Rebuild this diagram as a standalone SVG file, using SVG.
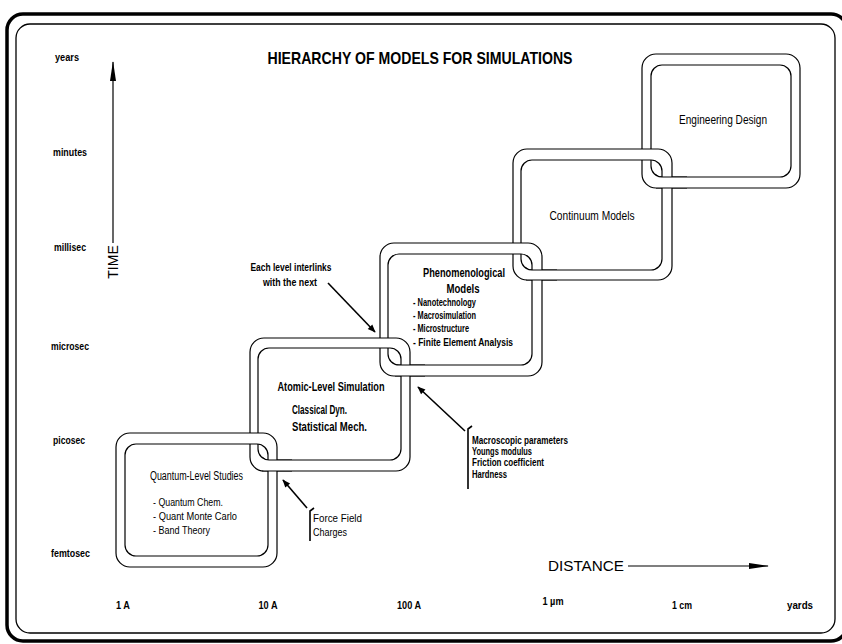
<svg xmlns="http://www.w3.org/2000/svg" width="842" height="644" viewBox="0 0 842 644">
<style>
.band{fill:#fff;fill-rule:evenodd;stroke:#000;stroke-width:1.2;stroke-linejoin:round}
.t{font-family:"Liberation Sans",Arial,sans-serif;fill:#000}
.b{font-weight:bold}
.s11{font-size:11px}
.s12{font-size:12.5px}
.ln{fill:none;stroke:#000;stroke-width:1.6}
.ax{fill:none;stroke:#000;stroke-width:1.2}
</style>
<defs>
<marker id="ah" viewBox="0 0 10 10" refX="9" refY="5" markerWidth="11" markerHeight="8" markerUnits="userSpaceOnUse" orient="auto">
<path d="M0,1 L10,5 L0,9 Z" fill="#000"/>
</marker>
<marker id="axh" viewBox="0 0 20 6" refX="19" refY="3" markerWidth="22" markerHeight="6" markerUnits="userSpaceOnUse" orient="auto">
<path d="M0,0 L20,3 L0,6 Z" fill="#000"/>
</marker>
<path id="bandQ" class="band" d="M130,433 H263 A14,14 0 0 1 277,447 V553 A14,14 0 0 1 263,567 H130 A14,14 0 0 1 116,553 V447 A14,14 0 0 1 130,433 Z M136,444 H257 A11,11 0 0 1 268,455 V545 A11,11 0 0 1 257,556 H136 A11,11 0 0 1 125,545 V455 A11,11 0 0 1 136,444 Z"/>
<path id="bandA" class="band" d="M264,338 H396 A14,14 0 0 1 410,352 V457 A14,14 0 0 1 396,471 H264 A14,14 0 0 1 250,457 V352 A14,14 0 0 1 264,338 Z M269,348 H390 A11,11 0 0 1 401,359 V449 A11,11 0 0 1 390,460 H269 A11,11 0 0 1 258,449 V359 A11,11 0 0 1 269,348 Z"/>
<path id="bandP" class="band" d="M394,243 H528 A14,14 0 0 1 542,257 V362 A14,14 0 0 1 528,376 H394 A14,14 0 0 1 380,362 V257 A14,14 0 0 1 394,243 Z M399,254 H521 A11,11 0 0 1 532,265 V354 A11,11 0 0 1 521,365 H399 A11,11 0 0 1 388,354 V265 A11,11 0 0 1 399,254 Z"/>
<path id="bandC" class="band" d="M527,149 H658 A14,14 0 0 1 672,163 V266 A14,14 0 0 1 658,280 H527 A14,14 0 0 1 513,266 V163 A14,14 0 0 1 527,149 Z M532,160 H651 A11,11 0 0 1 662,171 V259 A11,11 0 0 1 651,270 H532 A11,11 0 0 1 521,259 V171 A11,11 0 0 1 532,160 Z"/>
<path id="bandE" class="band" d="M656,54 H786 A14,14 0 0 1 800,68 V174 A14,14 0 0 1 786,188 H656 A14,14 0 0 1 642,174 V68 A14,14 0 0 1 656,54 Z M662,65 H780 A11,11 0 0 1 791,76 V166 A11,11 0 0 1 780,177 H662 A11,11 0 0 1 651,166 V76 A11,11 0 0 1 662,65 Z"/>
<clipPath id="cQA"><rect x="262" y="454" width="30" height="23"/></clipPath>
<clipPath id="cAP"><rect x="395" y="359" width="30" height="23"/></clipPath>
<clipPath id="cPC"><rect x="526" y="264" width="31" height="22"/></clipPath>
<clipPath id="cCE"><rect x="656" y="171" width="31" height="23"/></clipPath>
</defs>

<g id="frame">
<rect x="7" y="14" width="840" height="627" rx="16" fill="none" stroke="#000" stroke-width="3.5"/>
<rect x="16" y="24" width="819" height="609" rx="14" fill="none" stroke="#000" stroke-width="1.3"/>
</g>

<text class="t b" x="420" y="64" font-size="17" text-anchor="middle" textLength="305" lengthAdjust="spacingAndGlyphs">HIERARCHY OF MODELS FOR  SIMULATIONS</text>

<g id="time-axis-labels" class="t b s11">
<text x="55" y="61" textLength="24" lengthAdjust="spacingAndGlyphs">years</text>
<text x="53" y="156" textLength="34" lengthAdjust="spacingAndGlyphs">minutes</text>
<text x="54" y="251" textLength="32" lengthAdjust="spacingAndGlyphs">millisec</text>
<text x="51" y="350" textLength="38" lengthAdjust="spacingAndGlyphs">microsec</text>
<text x="53" y="444" textLength="32" lengthAdjust="spacingAndGlyphs">picosec</text>
<text x="51" y="557" textLength="39" lengthAdjust="spacingAndGlyphs">femtosec</text>
</g>
<g id="distance-axis-labels" class="t b s11" text-anchor="middle">
<text x="123" y="609" textLength="14" lengthAdjust="spacingAndGlyphs">1 A</text>
<text x="268" y="609" textLength="19" lengthAdjust="spacingAndGlyphs">10 A</text>
<text x="409" y="609" textLength="24" lengthAdjust="spacingAndGlyphs">100 A</text>
<text x="553" y="605" textLength="21" lengthAdjust="spacingAndGlyphs">1 µm</text>
<text x="682" y="609" textLength="20" lengthAdjust="spacingAndGlyphs">1 cm</text>
<text x="800" y="609" textLength="26" lengthAdjust="spacingAndGlyphs">yards</text>
</g>
<text class="t" font-size="14" text-anchor="middle" transform="translate(118,262) rotate(-90)">TIME</text>
<text class="t" x="548" y="571" font-size="14" textLength="76" lengthAdjust="spacingAndGlyphs">DISTANCE</text>

<g id="node-engineering">
<use href="#bandE"/>
<text class="t s12" x="723" y="124" text-anchor="middle" textLength="88" lengthAdjust="spacingAndGlyphs">Engineering  Design</text>
</g>
<g id="node-continuum">
<use href="#bandC"/>
<text class="t s12" x="592" y="220" text-anchor="middle" textLength="85" lengthAdjust="spacingAndGlyphs">Continuum  Models</text>
</g>
<g id="node-phenomenological">
<use href="#bandP"/>
<text class="t b s12" x="464" y="277" text-anchor="middle" textLength="82" lengthAdjust="spacingAndGlyphs">Phenomenological</text>
<text class="t b s12" x="463" y="293" text-anchor="middle" textLength="33" lengthAdjust="spacingAndGlyphs">Models</text>
<g class="t b" font-size="10.5">
<text x="413" y="306" textLength="63" lengthAdjust="spacingAndGlyphs">- Nanotechnology</text>
<text x="413" y="319" textLength="63" lengthAdjust="spacingAndGlyphs">- Macrosimulation</text>
<text x="413" y="332" textLength="56" lengthAdjust="spacingAndGlyphs">- Microstructure</text>
<text x="413" y="346" textLength="100" lengthAdjust="spacingAndGlyphs">- Finite  Element  Analysis</text>
</g>
</g>
<g id="node-atomic">
<use href="#bandA"/>
<text class="t b s12" x="331" y="391" text-anchor="middle" textLength="107" lengthAdjust="spacingAndGlyphs">Atomic-Level Simulation</text>
<text class="t b s12" x="292" y="414" textLength="55" lengthAdjust="spacingAndGlyphs">Classical  Dyn.</text>
<text class="t b s12" x="292" y="431" textLength="75" lengthAdjust="spacingAndGlyphs">Statistical  Mech.</text>
</g>
<g id="node-quantum">
<use href="#bandQ"/>
<text class="t s12" x="150" y="480" textLength="93" lengthAdjust="spacingAndGlyphs">Quantum-Level Studies</text>
<g class="t" font-size="11.5">
<text x="153" y="506" textLength="70" lengthAdjust="spacingAndGlyphs">- Quantum  Chem.</text>
<text x="153" y="520" textLength="84" lengthAdjust="spacingAndGlyphs">- Quant  Monte  Carlo</text>
<text x="153" y="534" textLength="57" lengthAdjust="spacingAndGlyphs">- Band  Theory</text>
</g>
</g>

<g id="interlinks">
<use href="#bandA" clip-path="url(#cQA)"/>
<use href="#bandP" clip-path="url(#cAP)"/>
<use href="#bandC" clip-path="url(#cPC)"/>
<use href="#bandE" clip-path="url(#cCE)"/>
</g>

<g id="annotations">
<text class="t b" font-size="11" x="291" y="271" text-anchor="middle" textLength="81" lengthAdjust="spacingAndGlyphs">Each level interlinks</text>
<text class="t b" font-size="11" x="290" y="286" text-anchor="middle" textLength="54" lengthAdjust="spacingAndGlyphs">with the next</text>
<g class="t b" font-size="10.5">
<text x="472" y="444" textLength="96" lengthAdjust="spacingAndGlyphs">Macroscopic  parameters</text>
<text x="472" y="455" textLength="60" lengthAdjust="spacingAndGlyphs">Youngs  modulus</text>
<text x="472" y="466" textLength="72" lengthAdjust="spacingAndGlyphs">Friction  coefficient</text>
<text x="472" y="478" textLength="35" lengthAdjust="spacingAndGlyphs">Hardness</text>
</g>
<g class="t" font-size="11.5">
<text x="313" y="522" textLength="49" lengthAdjust="spacingAndGlyphs">Force  Field</text>
<text x="313" y="536" textLength="34" lengthAdjust="spacingAndGlyphs">Charges</text>
</g>
</g>

<g id="connectors">
<line class="ax" x1="113" y1="243" x2="113" y2="62" marker-end="url(#axh)"/>
<line class="ax" x1="628" y1="566" x2="768" y2="566" marker-end="url(#axh)"/>
<line class="ln" x1="328" y1="283" x2="375" y2="332" marker-end="url(#ah)"/>
<line class="ln" x1="465" y1="431" x2="418" y2="387" marker-end="url(#ah)"/>
<line class="ln" x1="307" y1="508" x2="283" y2="480" marker-end="url(#ah)"/>
<path class="ln" d="M472,426 L468,429 V489"/>
<path class="ln" d="M314,508 L310,511 V541"/>
</g>
</svg>
